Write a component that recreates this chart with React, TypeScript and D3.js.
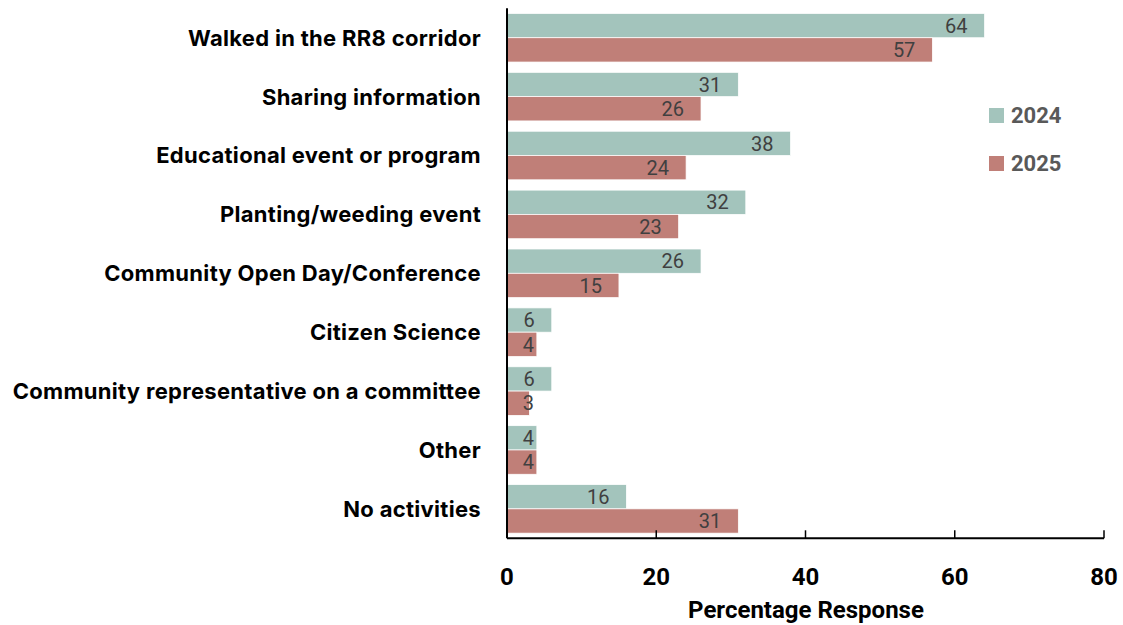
import React from "react";
import * as d3 from "d3";

const categories = [
  "Walked in the RR8 corridor",
  "Sharing information",
  "Educational event or program",
  "Planting/weeding event",
  "Community Open Day/Conference",
  "Citizen Science",
  "Community representative on a committee",
  "Other",
  "No activities",
];
const series = ["2024", "2025"];
const values2024 = [64, 31, 38, 32, 26, 6, 6, 4, 16];
const values2025 = [57, 26, 24, 23, 15, 4, 3, 4, 31];
const xTicks = [0, 20, 40, 60, 80];
const colors = ["#A3C4BC", "#C07F78"];

const W = 1123;
const H = 625;
const left = 507;
const right = 1104;
const top = 8.3;
const bottom = 538.3;

const labelFont = "Inter, Roboto, sans-serif";
const numFont = "Roboto, 'Liberation Sans', sans-serif";

export default function App() {
  const x = d3.scaleLinear().domain([0, 80]).range([left, right]);
  const y = d3
    .scaleBand<string>()
    .domain(categories)
    .range([top, bottom])
    .paddingInner(0.175)
    .paddingOuter(0.0875);
  const inner = d3.scaleBand<string>().domain(series).range([0, y.bandwidth()]);
  const allValues = [values2024, values2025];

  return (
    <svg
      width={W}
      height={H}
      style={{ position: "absolute", left: 0, top: 0, background: "#fff" }}
    >
      {categories.map((c, i) => (
        <g key={c}>
          {series.map((s, j) => {
            const v = allValues[j][i];
            const yy = (y(c) ?? 0) + (inner(s) ?? 0);
            // labels sit inside the bar end, but never closer to the axis than this
            const lx = Math.max(x(v) - 17, x(0) + 27);
            return (
              <g key={s}>
                <rect
                  x={x(0)}
                  y={yy}
                  width={x(v) - x(0)}
                  height={inner.bandwidth()}
                  fill={colors[j]}
                  stroke="#fff"
                  strokeWidth={0.75}
                />
                <text
                  x={lx}
                  y={yy + inner.bandwidth() / 2}
                  dy="0.36em"
                  textAnchor="end"
                  fontFamily={numFont}
                  fontSize={20}
                  fill="#404040"
                >
                  {v}
                </text>
              </g>
            );
          })}
          <text
            x={481}
            y={(y(c) ?? 0) + y.bandwidth() / 2}
            dy="0.36em"
            textAnchor="end"
            fontFamily={labelFont}
            fontWeight="bold"
            fontSize={22}
            letterSpacing={0.3}
            fill="#000"
          >
            {c}
          </text>
        </g>
      ))}

      {/* axes */}
      <line x1={left} x2={left} y1={top} y2={bottom} stroke="#000" strokeWidth={2} />
      <line x1={left} x2={right} y1={bottom} y2={bottom} stroke="#000" strokeWidth={2} />
      {xTicks.map((t) => (
        <g key={t}>
          {t > 0 && (
            <line x1={x(t)} x2={x(t)} y1={bottom} y2={bottom - 8} stroke="#000" strokeWidth={1.5} />
          )}
          <text
            x={x(t)}
            y={576}
            dy="0.36em"
            textAnchor="middle"
            fontFamily={numFont}
            fontWeight="bold"
            fontSize={24}
            fill="#000"
          >
            {t}
          </text>
        </g>
      ))}
      <text
        x={806}
        y={609}
        dy="0.36em"
        textAnchor="middle"
        fontFamily={numFont}
        fontWeight="bold"
        fontSize={24}
        fill="#000"
      >
        Percentage Response
      </text>

      {/* legend */}
      {series.map((s, j) => (
        <g key={s} transform={`translate(989, ${108 + j * 48})`}>
          <rect x={0} y={0} width={15} height={15} fill={colors[j]} />
          <text
            x={22}
            y={7.5}
            dy="0.36em"
            fontFamily={numFont}
            fontWeight="bold"
            fontSize={22}
            fill="#595959"
          >
            {s}
          </text>
        </g>
      ))}
    </svg>
  );
}
